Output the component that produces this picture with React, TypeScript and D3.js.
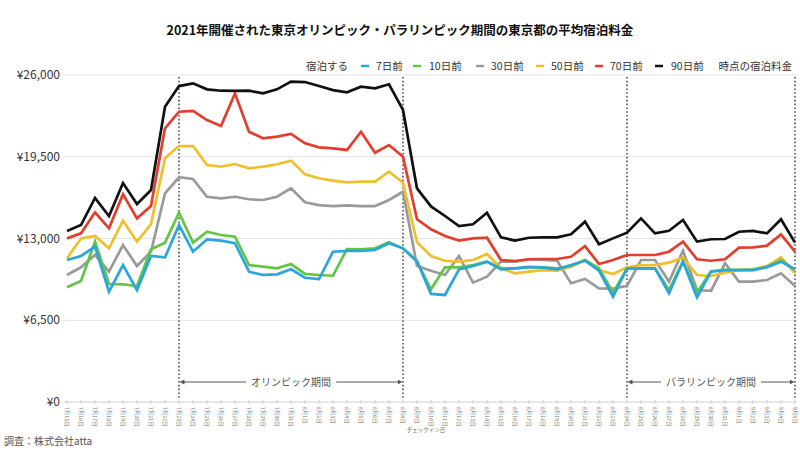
import React from "react";
import * as d3 from "d3";

const title = "2021年開催された東京オリンピック・パラリンピック期間の東京都の平均宿泊料金";

const dates = [
  "7月15日","7月16日","7月17日","7月18日","7月19日","7月20日","7月21日","7月22日","7月23日","7月24日",
  "7月25日","7月26日","7月27日","7月28日","7月29日","7月30日","7月31日","8月1日","8月2日","8月3日",
  "8月4日","8月5日","8月6日","8月7日","8月8日","8月9日","8月10日","8月11日","8月12日","8月13日",
  "8月14日","8月15日","8月16日","8月17日","8月18日","8月19日","8月20日","8月21日","8月22日","8月23日",
  "8月24日","8月25日","8月26日","8月27日","8月28日","8月29日","8月30日","8月31日","9月1日","9月2日",
  "9月3日","9月4日","9月5日",
];

const d7 = [11290,11610,12350,8770,10890,8900,11610,11500,14070,11950,12930,12830,12620,10360,10100,10150,10550,9880,9780,11950,12010,12010,12090,12620,12220,11200,8590,8510,10550,10810,11160,10550,10630,10740,10710,10550,10890,11230,10440,8370,10630,10630,10630,8640,11160,8320,10360,10490,10490,10490,10710,11160,10550];
const d10 = [9120,9620,12750,9380,9360,9220,12140,12670,15050,12670,13540,13280,13140,10890,10760,10630,10970,10180,10100,10040,12160,12140,12220,12700,12220,11160,8960,10710,10710,10890,11160,10630,10630,10710,10710,10630,10810,11290,10630,8700,10600,10630,10630,8900,11200,8700,10400,10500,10500,10500,10750,11290,10500];
const d30 = [10100,10710,11690,10360,12480,10810,11950,16590,17870,17730,16320,16190,16320,16120,16060,16320,16990,15880,15660,15580,15640,15580,15580,16060,16720,10810,10440,10100,11610,9490,9960,11160,11160,11350,11290,11240,9440,9780,9040,9020,9230,11290,11290,9570,12030,8900,8830,11030,9570,9570,9700,10230,9230];
const d50 = [11420,13010,13200,12220,14420,12750,14150,19380,20350,20350,18840,18710,18920,18580,18710,18900,19190,18100,17790,17600,17470,17520,17520,18310,17440,12700,11610,11230,11160,11290,11770,10630,10230,10360,10490,10440,10760,11290,10490,10180,10710,10890,10890,11080,11500,10100,10020,10280,10490,10550,10810,11500,10230];
const d70 = [13010,13410,15080,13810,16510,14600,15580,21760,23080,23140,22420,21940,24540,21490,20970,21100,21310,20570,20250,20170,20040,21490,19820,20430,19500,14530,13730,13200,12830,13010,13060,11290,11210,11350,11370,11370,11550,12400,10970,11290,11690,11690,11690,11950,12750,11350,11230,11350,12270,12290,12430,13330,11950];
const d90 = [13600,14070,16220,14790,17410,15740,16850,23480,25120,25340,24860,24750,24730,24750,24540,24860,25470,25440,25120,24800,24620,25070,24940,25260,23220,16990,15550,14790,13990,14130,15050,13090,12830,13060,13090,13090,13330,14340,12540,13010,13460,14600,13410,13620,14470,12750,12940,12960,13540,13600,13410,14530,12670];

const seriesNames = ["7日前", "10日前", "30日前", "50日前", "70日前", "90日前"];
const seriesColors = ["#2aa6de", "#62c545", "#9a9a9a", "#f0bf2c", "#e33d2e", "#111111"];
const seriesValues = [d7, d10, d30, d50, d70, d90];
const drawOrder = [2, 3, 4, 5, 1, 0];

const yTicks = [0, 6500, 13000, 19500, 26000];
const periods = [
  { label: "オリンピック期間", start: "7月23日", end: "8月8日" },
  { label: "パラリンピック期間", start: "8月24日", end: "9月5日" },
];
const legendPrefix = "宿泊する";
const legendSuffix = "時点の宿泊料金";
const xAxisTitle = "チェックイン日";
const source = "調査：株式会社atta";

const FONT = "'Noto Sans CJK JP', 'Noto Sans', sans-serif";

export default function App() {
  const W = 800, H = 450;
  const x = d3.scalePoint<string>().domain(dates).range([67, 795]);
  const y = d3.scaleLinear().domain([0, 26000]).range([402, 75]);
  const fmt = (v: number) => "¥" + d3.format(",")(v);
  const line = d3
    .line<number>()
    .x((_, i) => x(dates[i]) as number)
    .y((v) => y(v));

  const legendItems = [
    { x: 361, tx: 376 },
    { x: 413, tx: 429 },
    { x: 476, tx: 491 },
    { x: 536, tx: 551 },
    { x: 595, tx: 610 },
    { x: 655, tx: 671 },
  ];
  const legendY = 66;

  const dotted = ["7月23日", "8月8日", "8月24日", "9月5日"];
  const annY = 382;

  return (
    <svg width={W} height={H} style={{ position: "absolute", left: 0, top: 0, background: "#fff" }} fontFamily={FONT}>
      <defs>
        <marker id="arrL" viewBox="0 0 10 10" refX="1" refY="5" markerWidth="5" markerHeight="5" orient="auto-start-reverse">
          <path d="M0,0 L10,5 L0,10 z" fill="#555" />
        </marker>
      </defs>
      <rect x={0} y={0} width={W} height={H} fill="#fff" />
      <text x={400} y={35} textAnchor="middle" fontSize={12.5} fontWeight="bold" fill="#111">{title}</text>

      {/* legend */}
      <text x={348} y={legendY + 4} textAnchor="end" fontSize={10.5} fill="#333">{legendPrefix}</text>
      {legendItems.map((it, i) => (
        <g key={i}>
          <line x1={it.x} x2={it.x + 8} y1={legendY} y2={legendY} stroke={seriesColors[i]} strokeWidth={2.5} />
          <text x={it.tx} y={legendY + 4} fontSize={10.5} fill="#333">{seriesNames[i]}</text>
        </g>
      ))}
      <text x={792} y={legendY + 4} textAnchor="end" fontSize={10.5} fill="#333">{legendSuffix}</text>

      {/* grid */}
      {yTicks.map((t) => (
        <g key={t}>
          {t > 0 && <line x1={64} x2={797} y1={y(t)} y2={y(t)} stroke="#e4e4e4" strokeWidth={1} />}
          <text x={60} y={y(t) + 4} textAnchor="end" fontSize={12} fill="#333">{fmt(t)}</text>
        </g>
      ))}
      {/* x axis */}
      <line x1={64} x2={797} y1={y(0)} y2={y(0)} stroke="#cfcfcf" strokeWidth={1} />
      {dates.map((d) => (
        <g key={d}>
          <line x1={x(d)} x2={x(d)} y1={y(0) - 2} y2={y(0) + 2} stroke="#cfcfcf" strokeWidth={1} />
          <text
            transform={`translate(${(x(d) as number) - 1.9},${y(0) + 5}) rotate(90)`}
            fontSize={5.3}
            fill="#777"
          >{d}</text>
        </g>
      ))}
      <text x={426} y={432} textAnchor="middle" fontSize={5.5} fill="#666">{xAxisTitle}</text>

      {/* period dotted lines */}
      {dotted.map((d) => (
        <line key={d} x1={x(d)} x2={x(d)} y1={77} y2={400} stroke="#444" strokeWidth={1.5} strokeDasharray="1.6,2.2" />
      ))}

      {/* series */}
      {drawOrder.map((si) => (
        <path
          key={si}
          d={line(seriesValues[si]) || ""}
          fill="none"
          stroke={seriesColors[si]}
          strokeWidth={2.7}
          strokeLinejoin="miter"
        />
      ))}

      {/* period annotations */}
      {periods.map((p) => {
        const x0 = (x(p.start) as number) + 1;
        const x1 = (x(p.end) as number) - 1;
        const cx = (x0 + x1) / 2;
        const tw = p.label.length * 10 + 10;
        return (
          <g key={p.label}>
            <line x1={x0 + 4} x2={cx - tw / 2} y1={annY} y2={annY} stroke="#555" strokeWidth={1} markerStart="url(#arrL)" />
            <line x1={cx + tw / 2} x2={x1 - 4} y1={annY} y2={annY} stroke="#555" strokeWidth={1} markerEnd="url(#arrL)" />
            <text x={cx} y={annY + 3.5} textAnchor="middle" fontSize={10} fill="#555">{p.label}</text>
          </g>
        );
      })}

      <text x={4} y={445} fontSize={10} fill="#555">{source}</text>
    </svg>
  );
}
